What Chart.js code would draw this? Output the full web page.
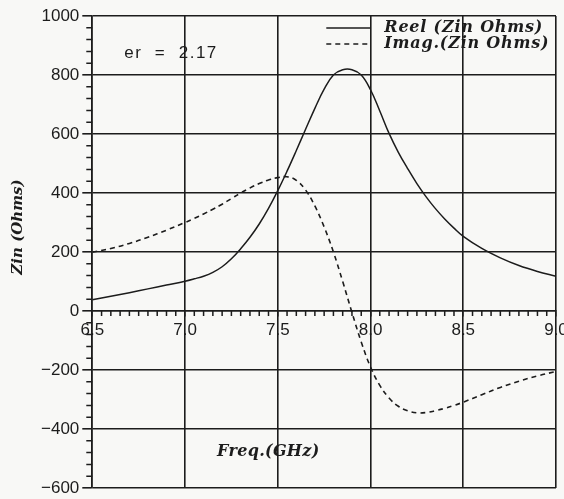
<!DOCTYPE html>
<html>
<head>
<meta charset="utf-8">
<script src="https://cdn.jsdelivr.net/npm/chart.js@4.4.1/dist/chart.umd.min.js"></script>
<style>
    html, body { margin: 0; padding: 0; background: #f8f8f6; }
    #wrap { width: 564px; height: 499px; }
</style>
</head>
<body>
<div id="wrap"><canvas id="zin-graph"></canvas></div>
<script>
;(function () {
    'use strict';

    // frequency sweep (GHz), finer steps through the resonance
    var freqGHz = [6.5, 6.6, 6.7, 6.8, 6.9,
                   7.0, 7.05, 7.1, 7.15, 7.2, 7.25, 7.3, 7.35, 7.4, 7.45,
                   7.5, 7.55, 7.6, 7.65, 7.7, 7.75, 7.8, 7.85, 7.9, 7.95,
                   8.0, 8.05, 8.1, 8.15, 8.2, 8.25, 8.3, 8.35, 8.4, 8.45,
                   8.5, 8.6, 8.7, 8.8, 8.9, 9.0];

    // input impedance (Ohms)
    var zinReel = [38, 50, 62, 75, 88,
                   101, 109, 118, 131, 150, 177, 211, 250, 295, 348,
                   408, 474, 544, 616, 687, 752, 800, 818, 818, 800,
                   750, 678, 602, 538, 483, 432, 387, 347, 312, 281,
                   253, 212, 180, 154, 134, 118];
    var zinImag = [199, 212, 229, 250, 274,
                   300, 314, 329, 345, 362, 381, 400, 417, 432, 444,
                   452, 455, 443, 410, 356, 285, 200, 100, -5, -105,
                   -190, -252, -295, -323, -338, -345, -344, -338, -330, -320,
                   -309, -284, -259, -238, -220, -205];

    var freqTicks = [6.5, 7.0, 7.5, 8.0, 8.5, 9.0];
    var zinTicks = [-600, -400, -200, 0, 200, 400, 600, 800, 1000];

    var seriesLabels = ['Reel (Zin Ohms)', 'Imag.(Zin Ohms)'];
    var noteText = 'er  =  2.17';
    var xTitle = 'Freq.(GHz)';
    var yTitle = 'Zin (Ohms)';

    var ink = '#1c1c1c';
    var paper = '#f8f8f6';
    var tickFont = { family: '"Liberation Sans", Arial, sans-serif', size: 17 };
    var plotFont = 'italic bold 16px "DejaVu Serif", serif';

    var canvas = document.getElementById('zin-graph');

    function points(ys) {
        return freqGHz.map(function (f, i) { return { x: f, y: ys[i] }; });
    }

    var paperPlugin = {
        id: 'paper',
        beforeDraw: function (chart) {
            var ctx = chart.ctx;
            ctx.save();
            ctx.fillStyle = paper;
            ctx.fillRect(0, 0, chart.width, chart.height);
            ctx.restore();
        }
    };

    // small ticks between the labelled ones
    var minorTicksPlugin = {
        id: 'minorTicks',
        afterDatasetsDraw: function (chart) {
            var ctx = chart.ctx;
            var sx = chart.scales.x;
            var sy = chart.scales.y;
            var axisY = sy.getPixelForValue(0);
            var left = chart.chartArea.left;
            var i, k, step, p;

            ctx.save();
            ctx.strokeStyle = ink;
            ctx.lineWidth = 1.5;
            ctx.beginPath();
            for (i = 0; i < freqTicks.length - 1; i++) {
                step = (freqTicks[i + 1] - freqTicks[i]) / 10;
                for (k = 1; k < 10; k++) {
                    p = sx.getPixelForValue(freqTicks[i] + k * step);
                    ctx.moveTo(p, axisY);
                    ctx.lineTo(p, axisY + 5);
                }
            }
            for (i = 0; i < zinTicks.length - 1; i++) {
                step = (zinTicks[i + 1] - zinTicks[i]) / 5;
                for (k = 1; k < 5; k++) {
                    p = sy.getPixelForValue(zinTicks[i] + k * step);
                    ctx.moveTo(left - 6, p);
                    ctx.lineTo(left, p);
                }
            }
            ctx.stroke();
            ctx.restore();
        }
    };

    // axis titles, the er note and the line key in the top right corner
    var notesPlugin = {
        id: 'notes',
        afterDraw: function (chart) {
            var ctx = chart.ctx;
            var area = chart.chartArea;
            var sets = chart.data.datasets;

            ctx.save();
            ctx.fillStyle = ink;
            ctx.textBaseline = 'middle';

            ctx.font = '17px "Liberation Sans", Arial, sans-serif';
            ctx.letterSpacing = '1.5px';
            ctx.textAlign = 'left';
            ctx.fillText(noteText, area.left + 32, area.top + 37);

            ctx.font = plotFont;
            ctx.letterSpacing = '0.3px';
            ctx.textAlign = 'center';
            ctx.fillText(xTitle, area.left + 176, area.bottom - 36);

            ctx.save();
            ctx.font = 'italic bold 15px "DejaVu Serif", serif';
            ctx.letterSpacing = '0px';
            ctx.translate(18, area.top + 211);
            ctx.rotate(-Math.PI / 2);
            ctx.fillText(yTitle, 0, 0);
            ctx.restore();

            ctx.letterSpacing = '0.8px';
            ctx.textAlign = 'left';
            sets.forEach(function (ds, i) {
                var yy = area.top + 12 + i * 16;
                ctx.save();
                ctx.strokeStyle = ds.borderColor;
                ctx.lineWidth = ds.borderWidth;
                ctx.setLineDash(ds.borderDash || []);
                ctx.beginPath();
                ctx.moveTo(area.left + 234, yy);
                ctx.lineTo(area.left + 278, yy);
                ctx.stroke();
                ctx.restore();
                ctx.fillText(seriesLabels[i], area.left + 292, yy);
            });
            ctx.restore();
        }
    };

    var zinChart = new Chart(canvas, {
        type: 'line',
        data: {
            datasets: [{
                label: seriesLabels[0],
                data: points(zinReel),
                borderColor: ink,
                borderWidth: 1.5,
                pointRadius: 0,
                tension: 0.4
            }, {
                label: seriesLabels[1],
                data: points(zinImag),
                borderColor: ink,
                borderWidth: 1.6,
                borderDash: [5, 4],
                pointRadius: 0,
                tension: 0.4
            }]
        },
        options: {
            responsive: true,
            maintainAspectRatio: false,
            animation: false,
            layout: {
                padding: { left: 38, top: 16, right: 0, bottom: 11 }
            },
            scales: {
                x: {
                    type: 'linear',
                    min: 6.5,
                    max: 9.0,
                    position: { y: 0 },
                    afterBuildTicks: function (scale) {
                        scale.ticks = freqTicks.map(function (v) { return { value: v }; });
                    },
                    afterFit: function (scale) {
                        scale.paddingRight = 8;
                    },
                    grid: { color: ink, lineWidth: 1.6, tickLength: 5, tickColor: ink },
                    border: { color: ink, width: 1.6 },
                    ticks: {
                        color: ink,
                        font: tickFont,
                        padding: 4,
                        maxRotation: 0,
                        autoSkip: false,
                        callback: function (v) { return v.toFixed(1); }
                    }
                },
                y: {
                    type: 'linear',
                    min: -600,
                    max: 1000,
                    afterBuildTicks: function (scale) {
                        scale.ticks = zinTicks.map(function (v) { return { value: v }; });
                    },
                    afterFit: function (scale) {
                        scale.paddingTop = 0;
                        scale.paddingBottom = 0;
                    },
                    grid: { color: ink, lineWidth: 1.6, tickLength: 10 },
                    border: { color: ink, width: 1.6 },
                    ticks: {
                        color: ink,
                        font: tickFont,
                        padding: 3,
                        callback: function (v) { return v < 0 ? '\u2212' + (-v) : String(v); }
                    }
                }
            },
            plugins: {
                legend: { display: false },
                tooltip: { enabled: false }
            }
        },
        plugins: [paperPlugin, minorTicksPlugin, notesPlugin]
    });
})();
</script>
</body>
</html>
